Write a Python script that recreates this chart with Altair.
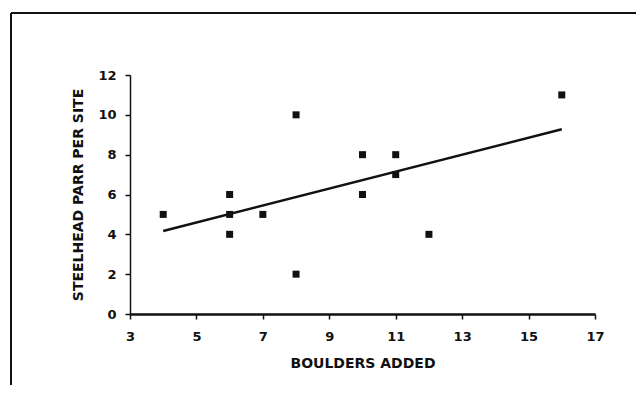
import altair as alt
import pandas as pd

boulders = [4, 6, 6, 6, 7, 8, 8, 10, 10, 11, 11, 12, 16]
parr = [5, 6, 5, 4, 5, 10, 2, 8, 6, 8, 7, 4, 11]
x_ticks = [3, 5, 7, 9, 11, 13, 15, 17]
y_ticks = [0, 2, 4, 6, 8, 10, 12]

df = pd.DataFrame({"boulders": boulders, "parr": parr})

FONT = "DejaVu Sans"
INK = "#111111"

x_enc = alt.X("boulders:Q", scale=alt.Scale(domain=[3, 17], nice=False, zero=False),
              axis=alt.Axis(values=x_ticks, title="BOULDERS ADDED", grid=False,
                            tickSize=5, labelPadding=11, titlePadding=13,
                            domainWidth=2.5, tickWidth=1.5,
                            labelOverlap=False, labelFlush=False))
y_enc = alt.Y("parr:Q", scale=alt.Scale(domain=[0, 12], nice=False),
              axis=alt.Axis(values=y_ticks, tickCount=7, title="STEELHEAD PARR PER SITE",
                            grid=False, tickSize=5, labelPadding=9, titlePadding=12,
                            domainWidth=1.5, tickWidth=1.5,
                            labelOverlap=False, labelFlush=False))

base = alt.Chart(df)

points = base.mark_square(size=49, color=INK, opacity=1).encode(x=x_enc, y=y_enc)

fit = base.transform_regression("boulders", "parr").mark_line(
    color=INK, strokeWidth=2.5).encode(x=x_enc, y=y_enc)

one = alt.Data(values=[{"k": 1}])
frame_top = alt.Chart(one).mark_rule(color=INK, strokeWidth=2).encode(
    x=alt.value(-119), x2=alt.value(510), y=alt.value(-62))
frame_left = alt.Chart(one).mark_rule(color=INK, strokeWidth=2).encode(
    x=alt.value(-119), y=alt.value(-62), y2=alt.value(330))

chart = alt.layer(frame_top, frame_left, fit, points).properties(
    width=465, height=239,
    autosize=alt.AutoSizeParams(type="none"),
    padding={"left": 122, "top": 67, "right": 41, "bottom": 71},
).configure_view(stroke=None).configure_axis(
    domainColor=INK, tickColor=INK, labelColor=INK, titleColor=INK,
    labelFont=FONT, titleFont=FONT, labelFontSize=13, labelFontWeight="bold",
    titleFontSize=14, titleFontWeight="bold",
)

chart.save("out.html", embed_options={"renderer": "svg", "actions": False})
